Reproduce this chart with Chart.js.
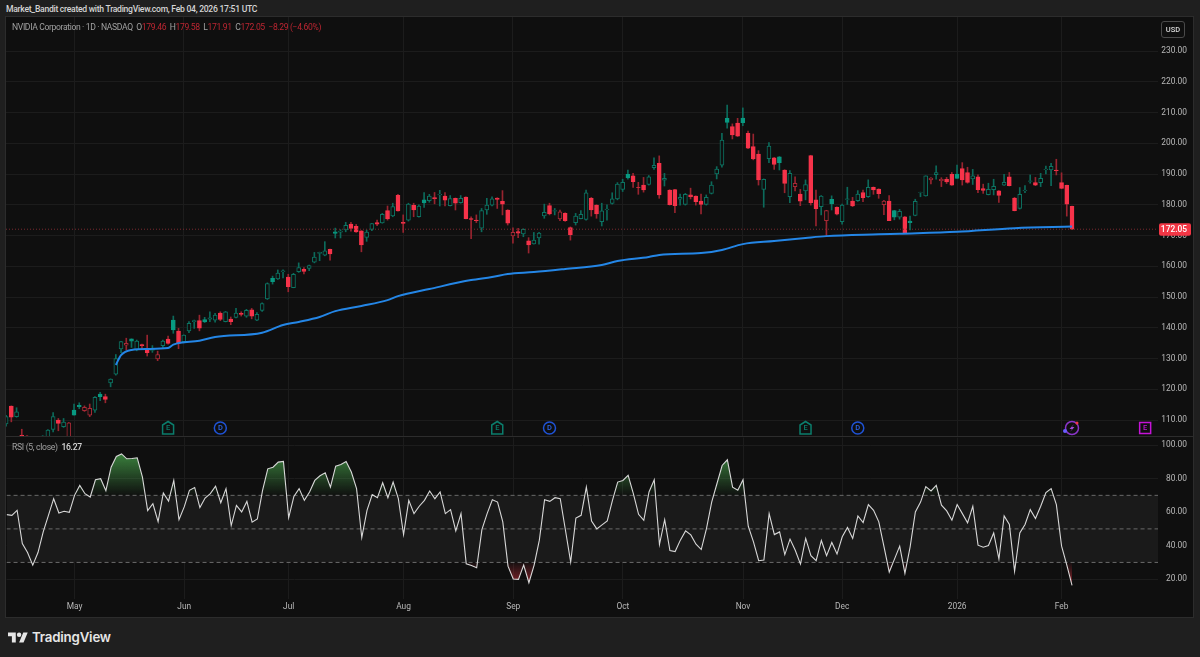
<!DOCTYPE html>
<html>
<head>
<meta charset="utf-8">
<title>NVDA</title>
<script src="https://cdn.jsdelivr.net/npm/chart.js@4/dist/chart.umd.js"></script>
<style>
  html, body { margin: 0; padding: 0; width: 1200px; height: 657px; overflow: hidden; background: #1f1f1f; font-family: Roboto, sans-serif; }
  #frame { position: absolute; left: 6px; top: 17px; width: 1187px; height: 600px; background: #0f0f0f; }
  #frameBorder { position: absolute; left: 5px; top: 16px; width: 1187px; height: 600px; border: 1px solid #2c2c2c; pointer-events: none; }
  #divider { position: absolute; left: 6px; top: 436px; width: 1187px; height: 1px; background: #2c2c2c; }
  canvas { position: absolute; left: 6px; }
  #priceCanvas { top: 17px; }
  #rsiCanvas { top: 437px; }
  .txt { position: absolute; white-space: pre; }
  #author { left: 6px; top: 4px; font-size: 8.6px; letter-spacing: -0.28px; line-height: 11px; font-weight: 500; color: #d4d4d4; }
  #legend { left: 12px; top: 22px; font-size: 8.6px; letter-spacing: -0.36px; line-height: 11px; color: #a0a0a0; }
  #legend b { font-weight: 400; color: #bd2632; }
  #rsiLegend { left: 12px; top: 441px; font-size: 8.6px; letter-spacing: -0.3px; line-height: 12px; color: #a0a0a0; }
  #rsiLegend b { font-weight: 500; color: #d8d8d8; }
  #usd { position: absolute; left: 1161px; top: 21px; width: 22px; height: 15px; border: 1px solid #4a4a4a; border-radius: 3px; color: #d8d8d8; font-size: 7.5px; font-weight: 500; text-align: center; line-height: 15px; }
  #logo { position: absolute; left: 8px; top: 630px; width: 20px; height: 16px; fill: #e6e6e6; }
  #brand { left: 32px; top: 629px; font-family: Inter, sans-serif; font-size: 13.3px; font-weight: 600; letter-spacing: -0.2px; color: #e6e6e6; }
</style>
</head>
<body>
<div id="frame"></div>
<canvas id="priceCanvas" width="1187" height="419"></canvas>
<canvas id="rsiCanvas" width="1187" height="180"></canvas>
<div id="divider"></div>
<div id="frameBorder"></div>
<div class="txt" id="author">Market_Bandit created with TradingView.com, Feb 04, 2026 17:51 UTC</div>
<div class="txt" id="legend">NVIDIA Corporation · 1D · NASDAQ  O<b>179.46</b>  H<b>179.58</b>  L<b>171.91</b>  C<b>172.05</b>  <b>−8.29 (−4.60%)</b></div>
<div class="txt" id="rsiLegend">RSI (5, close)  <b>16.27</b></div>
<div id="usd">USD</div>
<svg id="logo" viewBox="0 0 36 28"><path d="M14 22H7V11H0V4h14v18zM28 22h-8l7.5-18h8L28 22z"/><circle cx="20" cy="8" r="4"/></svg>
<div class="txt" id="brand">TradingView</div>

<script>
/* ===== ค่าที่อ่านจากกราฟ ===== */
const opens = [108.7,114.5,111.1,105.0,104.8,103,101,103,103.5,106.9,
  110.0,107.8,104.5,113.2,114.8,113.0,111.6,113.2,118.4,117.6,
  122.1,124.9,133.1,134.3,136.4,132.8,134.5,133.3,132.6,129.9,
  134.2,136.3,142.5,138.9,135.5,139.0,142.0,142.3,142.7,142.8,
  142.5,144.8,142.0,142.8,143.4,144.7,143.8,145.8,142.5,145.6,
  149.4,156.1,155.9,158.2,156.5,153.0,158.2,159.0,159.3,161.3,
  164.2,163.6,165.5,171.2,171.1,171.8,173.7,173.0,171.5,169.4,
  172.0,174.2,174.1,178.1,176.4,183.1,174.3,175.0,179.8,176.1,
  181.6,181.3,182.3,183.2,182.8,179.7,182.1,180.7,182.5,175.5,
  175.0,172.4,178.3,179.9,182.2,181.1,178.3,169.9,171.3,170.5,
  168.3,167.3,169.2,176.4,179.7,177.9,175.4,177.2,172.6,174.2,
  175.5,175.2,182.1,179.9,174.5,178.4,180.4,181.9,185.0,189.9,
  189.4,185.7,186.4,186.6,192.1,193.5,188.0,184.8,184.9,181.8,
  180.1,183.2,182.8,181.2,180.1,183.7,190.0,192.9,208.1,205.4,
  206.6,208.2,203.2,198.9,196.5,185.0,195.0,195.3,195.6,191.3,
  182.6,185.9,183.5,184.5,196.0,181.6,179.4,174.8,181.8,179.2,
  174.5,181.7,181.2,181.3,184.0,182.6,185.7,185.1,180.0,181.2,
  178.1,176.0,176.1,174.7,176.5,183.9,182.9,188.1,189.8,187.8,
  188.3,189.9,190.0,191.8,190.5,188.4,189.1,185.3,183.3,184.9,
  184.5,186.4,189.1,182.2,178.8,184.6,187.6,187.2,187.2,191.4,
  191.3,191.3,187.2,186.3,179.46];
const highs = [111.5,114.6,114.0,107.0,104.9,103.5,103.2,104.9,106.9,112.4,
  110.5,110.5,109.2,115.2,115.6,114.6,115.2,117.6,119.0,118.4,
  123.4,131.3,135.6,136.6,136.4,136.0,134.7,137.6,134.2,132.4,
  136.0,137.3,143.8,139.8,137.7,142.0,142.5,144.1,143.4,145.2,
  144.7,145.2,145.3,143.5,146.3,145.2,146.0,146.3,144.9,148.1,
  154.6,156.8,158.8,158.8,157.4,157.7,161.1,159.6,160.4,164.5,
  164.6,168.0,165.6,172.4,171.9,174.3,174.3,173.6,171.6,171.8,
  174.0,175.0,177.2,179.6,180.5,183.4,176.7,180.5,180.5,180.0,
  184.0,183.4,184.0,184.7,184.0,183.0,182.2,183.0,182.6,176.1,
  176.7,178.8,182.1,182.6,182.3,184.6,178.4,172.5,172.3,172.2,
  169.3,171.0,171.0,180.2,180.5,178.8,178.3,177.4,172.8,177.2,
  178.1,184.8,182.4,180.0,180.5,180.0,183.9,187.2,188.3,191.3,
  190.2,187.3,188.9,189.5,195.3,195.9,190.2,184.9,185.0,183.5,
  183.7,185.4,182.9,183.5,183.2,187.5,192.4,203.2,212.4,206.3,
  208.1,211.5,204.0,203.0,197.6,188.4,200.2,195.4,195.7,191.4,
  191.1,189.1,185.0,188.1,196.1,184.8,183.0,178.2,182.9,179.3,
  180.2,185.7,182.4,184.6,184.8,188.1,185.8,185.2,181.4,183.0,
  178.2,178.5,176.2,176.3,181.8,184.1,189.4,188.8,192.7,188.8,
  188.9,190.5,192.9,193.7,192.2,191.5,189.7,186.7,187.0,188.3,
  184.6,189.9,190.5,182.4,185.6,186.2,189.7,188.9,190.2,192.6,
  193.5,194.8,190.4,186.4,179.58];
const lows = [108,109.4,110.9,104,104,101,100.5,102,103,106.1,
  106.5,107.6,104,111.6,113.7,112.8,111.1,112.5,116.3,115.6,
  120.8,124.6,131.9,132.8,133.6,132.5,133.0,130.8,132.0,129.3,
  133.6,134.7,138.2,133.2,135.1,138.4,139.8,139.0,141.7,142.0,
  141.8,142.3,141.9,141.0,143.2,143.8,143.4,142.9,142.3,145.3,
  149.2,154.2,155.7,156.2,151.7,153.0,158.0,157.5,158.6,161.1,
  161.8,163.4,162.0,169.2,169.2,171.2,171.4,171.0,164.7,168.1,
  171.6,173.2,174.0,175.0,176.1,177.9,171.0,174.7,176.1,176.0,
  179.1,180.8,180.3,179.6,179.6,179.6,178.3,180.5,175.4,169.0,
  174.2,171.2,176.9,179.6,178.8,176.7,173.4,167.5,169.3,169.6,
  164.3,167.2,167.2,175.6,176.7,176.7,174.8,174.6,168.5,173.4,
  175.4,175.0,176.3,175.6,173.1,175.0,180.2,181.6,184.3,188.3,
  185.6,183.4,184.1,186.4,191.5,182.1,186.1,179.9,177.4,179.9,
  179.9,181.9,179.9,177.0,179.9,183.5,188.4,192.2,204.9,201.4,
  202.2,205.7,198.2,194.6,186.4,179.2,193.7,191.5,191.3,183.9,
  180.7,184.5,179.7,181.6,179.9,173.1,176.7,169.8,178.3,176.7,
  173.7,180.1,179.4,181.1,181.0,182.4,183.4,182.1,176.8,174.8,
  175.1,175.3,170.7,171.8,176.4,182.6,182.8,186.8,188.3,185.9,
  186.9,186.3,188.6,186.4,187.0,186.6,183.9,183.7,183.2,183.2,
  180.8,186.3,186.1,178.0,178.6,183.9,187.0,186.2,185.9,190.0,
  186.2,189.7,185.2,176.3,171.91];
const closes = [111.1,110.9,112.7,104.7,104.5,102,103,104.8,106.7,111.1,
  108.9,109.3,109.1,111.6,114.3,114.1,113.8,117.4,117.6,116.7,
  123.3,130.0,135.5,134.9,135.6,135.7,134.2,131.9,133.0,131.3,
  135.7,134.9,139.3,134.9,137.6,141.4,142.3,139.9,141.9,143.2,
  144.1,142.7,145.2,142.0,144.8,144.3,145.7,143.8,144.4,147.9,
  154.4,155.0,157.8,158.5,153.4,157.4,159.6,158.3,160.2,163.0,
  164.5,165.0,164.0,170.7,171.4,173.3,172.3,171.2,166.9,171.1,
  173.9,173.7,176.9,175.4,179.4,178.0,173.9,180.2,178.3,179.6,
  180.6,182.8,182.0,183.4,181.5,182.0,180.5,182.1,175.5,175.2,
  174.8,178.1,179.9,181.9,181.7,180.2,174.0,171.0,170.8,172.0,
  166.9,168.5,170.8,177.5,177.0,178.1,177.7,174.8,170.3,176.3,
  176.9,183.9,178.3,177.0,178.0,178.6,181.9,186.7,187.3,188.7,
  187.5,185.6,184.8,189.1,192.8,183.2,188.6,180.0,179.7,182.4,
  183.4,182.6,181.0,180.1,182.4,186.4,191.6,201.0,206.8,202.7,
  202.3,206.7,198.4,194.9,188.1,188.3,199.1,193.1,193.7,186.9,
  190.2,187.0,181.2,186.6,180.7,178.7,182.8,178.1,180.3,176.9,
  179.9,181.9,179.6,183.5,182.3,185.7,184.8,183.6,181.2,174.8,
  176.0,177.9,170.7,174.2,181.1,184.0,189.4,188.7,190.5,188.3,
  187.4,186.4,188.6,188.1,187.3,189.4,184.9,184.7,185.0,186.0,
  183.0,187.3,186.2,178.1,183.4,184.8,187.8,186.4,188.6,191.6,
  192.5,191.1,185.3,180.2,172.05];

const rsiValues = [58.5,58.1,61.1,41.3,35.9,28.4,35.9,48.2,58.1,68.0,
  59.5,60.5,59.9,70.0,75.9,71.0,69.0,79.3,79.9,72.8,
  86.8,93.2,94.7,91.8,92.0,92.4,80.9,60.9,65.0,54.3,
  71.4,66.6,78.9,55.5,63.1,73.0,74.7,62.7,68.4,71.0,
  75.5,65.6,74.0,52.0,64.0,60.1,66.4,54.0,55.9,73.0,
  85.8,86.8,89.8,90.2,56.7,69.4,74.0,67.0,72.0,78.9,
  81.7,83.5,74.9,87.4,88.4,90.2,83.9,74.0,44.8,61.1,
  70.4,68.6,77.5,68.6,77.9,68.0,46.6,67.0,59.1,63.5,
  67.0,72.6,68.0,72.0,59.1,61.5,48.8,59.1,29.2,28.2,
  26.8,49.6,59.1,67.4,66.0,54.2,27.8,20.1,19.9,28.4,
  17.9,28.4,43.3,67.4,66.4,68.6,68.0,49.2,30.2,56.5,
  58.1,74.9,54.7,50.0,52.4,54.7,67.0,77.9,78.9,81.9,
  71.0,58.7,55.1,72.0,79.3,40.7,55.5,37.1,36.5,43.3,
  48.8,46.4,40.9,37.7,50.2,66.0,76.9,87.8,91.2,74.9,
  73.0,79.3,51.6,42.3,31.0,31.4,59.1,46.6,48.2,34.7,
  43.9,37.3,29.0,44.3,34.0,31.0,43.1,34.0,41.9,35.0,
  45.3,50.8,44.3,57.7,53.8,64.5,61.1,54.2,39.3,24.3,
  32.0,39.7,23.5,39.3,60.1,66.0,75.2,72.6,75.9,64.1,
  60.7,55.2,64.5,59.1,53.6,63.5,40.3,39.1,40.1,47.6,
  32.0,57.7,52.6,24.7,47.6,52.6,61.5,56.2,63.5,71.6,
  74.0,64.5,39.7,28.4,16.27];

// เส้นสีน้ำเงิน: อ่านเป็นช่วง ๆ (แท่งที่, ราคา)
const avgBars = [21,22,24,27,31,32,37,40,49,53,56,60,63,68,73,75,81,89,93,96,101,107,114,117,123,125,133,137,141,147,153,157,167,171,182,193,204];
const avgVals = [127.9,131.1,132.8,133.1,133.4,134.5,135.8,137.0,138.4,140.9,141.9,143.5,145.4,147.1,149.0,150.3,152.6,155.5,156.5,157.5,158.1,159.1,160.4,161.7,163.0,163.7,164.3,165.3,167.2,168.2,169.2,169.8,170.4,170.6,171.2,172.4,172.9];

const monthBars = [13,34,54,76,97,118,141,160,182,202];
const monthLabels = ['May','Jun','Jul','Aug','Sep','Oct','Nov','Dec','2026','Feb'];
const priceTicks = [110,120,130,140,150,160,170,180,190,200,210,220,230];
const rsiTicks = [20,40,60,80,100];
const rsiLevels = [70,50,30];
const earningsBars = [31,94,153,218];
const dividendBars = [41,104,163];
const noticeBar = 204;

/* ===== ค่าแกน/สี ===== */
const X_MIN = -0.02, X_MAX = 220.46;
const GREEN = '#089981', RED = '#f7334a';
const PANE_BG = '#0f0f0f', GRID = '#1c1c1c', TICK = '#b8b8b8';
const TICK_FONT = { family: 'Roboto, sans-serif', size: 8.4 };

function isUp(i) {
    return i === 0 || closes[i] >= closes[i - 1];
}

function fixAxisY(axis) {
    axis.width = 29;
    axis.paddingTop = 0;
    axis.paddingBottom = 0;
}

function fixAxisX(height) {
    return function(axis) {
        axis.height = height;
        axis.paddingLeft = 0;
        axis.paddingRight = 0;
    };
}

function monthAxis(showLabels, height) {
    return {
        type: 'linear',
        offset: false,
        min: X_MIN,
        max: X_MAX,
        afterBuildTicks: axis => { axis.ticks = monthBars.map(v => ({ value: v })); },
        afterFit: fixAxisX(height),
        border: { display: false },
        grid: { color: GRID, drawTicks: false, offset: false },
        ticks: {
            display: showLabels,
            autoSkip: false,
            maxRotation: 0,
            padding: 3,
            color: TICK,
            font: TICK_FONT,
            callback: v => monthLabels[monthBars.indexOf(v)]
        }
    };
}

/* ===== ไอคอนเหตุการณ์และป้ายราคา ===== */
const priceExtras = {
    id: 'priceExtras',
    afterDraw(chart) {
        const ctx = chart.ctx;
        const xs = chart.scales.x, ys = chart.scales.y;
        const top = 411;  // เส้นกลางไอคอน ภายใน canvas

        ctx.save();
        ctx.textAlign = 'center';
        ctx.textBaseline = 'middle';
        ctx.font = '500 7.5px Roboto, sans-serif';

        earningsBars.forEach(function(bar, n) {
            const x = xs.getPixelForValue(bar);
            const future = n === earningsBars.length - 1;
            const c = future ? '#c513d8' : '#0b7d6c';
            ctx.strokeStyle = c;
            ctx.fillStyle = c;
            ctx.lineWidth = 1.5;
            ctx.beginPath();
            if (future) {
                ctx.rect(x - 5.5, top - 5.5, 11, 11);
            } else {
                ctx.moveTo(x, top - 6.5);
                ctx.lineTo(x + 5.5, top - 3);
                ctx.lineTo(x + 5.5, top + 6);
                ctx.lineTo(x - 5.5, top + 6);
                ctx.lineTo(x - 5.5, top - 3);
                ctx.closePath();
            }
            ctx.stroke();
            ctx.fillText('E', x, top + 0.5);
        });

        dividendBars.forEach(function(bar) {
            const x = xs.getPixelForValue(bar);
            ctx.strokeStyle = '#1f53d6';
            ctx.fillStyle = '#2f66e8';
            ctx.lineWidth = 1.5;
            ctx.beginPath();
            ctx.arc(x, top, 6, 0, Math.PI * 2);
            ctx.stroke();
            ctx.fillText('D', x, top + 0.5);
        });

        // ไอคอนสายฟ้าแท่งล่าสุด
        const nx = xs.getPixelForValue(noticeBar);
        ctx.strokeStyle = '#8a35c9';
        ctx.lineWidth = 1.5;
        ctx.beginPath();
        ctx.arc(nx, top, 6.5, 0, Math.PI * 2);
        ctx.stroke();
        ctx.fillStyle = '#a04ad8';
        ctx.beginPath();
        ctx.moveTo(nx + 2, top - 4);
        ctx.lineTo(nx - 2.5, top + 1);
        ctx.lineTo(nx, top + 1);
        ctx.lineTo(nx - 2, top + 4);
        ctx.lineTo(nx + 2.5, top - 1);
        ctx.lineTo(nx, top - 1);
        ctx.closePath();
        ctx.fill();
        ctx.fillStyle = '#6a5cff';
        ctx.beginPath();
        ctx.arc(nx - 7, top + 3, 2, 0, Math.PI * 2);
        ctx.fill();
        ctx.fillStyle = '#f23645';
        ctx.beginPath();
        ctx.arc(nx + 5, top - 5, 1.5, 0, Math.PI * 2);
        ctx.fill();

        // ป้ายราคาล่าสุด
        const last = closes[closes.length - 1];
        const ly = ys.getPixelForValue(last);
        ctx.fillStyle = '#f23645';
        ctx.beginPath();
        ctx.roundRect(1153, ly - 6, 32, 12.5, 2);
        ctx.fill();
        ctx.fillStyle = '#ffffff';
        ctx.font = '500 8.4px Roboto, sans-serif';
        ctx.textAlign = 'right';
        ctx.fillText(last.toFixed(2), 1181, ly + 0.5);
        ctx.restore();
    }
};

/* ===== แท่งเทียน + เส้นเฉลี่ย ===== */
function initPriceChart() {
    const bars = opens.map((o, i) => i);
    const lastClose = closes[closes.length - 1];

    new Chart(document.getElementById('priceCanvas'), {
        type: 'bar',
        data: {
            datasets: [
                {
                    label: 'wick',
                    order: 4,
                    grouped: false,
                    barThickness: 1,
                    data: bars.map(i => ({ x: i, y: [lows[i], highs[i]] })),
                    backgroundColor: c => isUp(c.dataIndex) ? '#0c6a5b' : '#98242f'
                },
                {
                    label: 'body',
                    order: 3,
                    grouped: false,
                    barThickness: 4,
                    borderSkipped: false,
                    borderWidth: 1,
                    data: bars.map(i => ({ x: i, y: [Math.min(opens[i], closes[i]), Math.max(opens[i], closes[i])] })),
                    backgroundColor: c => closes[c.dataIndex] >= opens[c.dataIndex] ? PANE_BG : (isUp(c.dataIndex) ? GREEN : RED),
                    borderColor: c => {
                        if (closes[c.dataIndex] >= opens[c.dataIndex]) return isUp(c.dataIndex) ? '#0c7463' : '#a82a36';
                        return isUp(c.dataIndex) ? GREEN : RED;
                    }
                },
                {
                    type: 'line',
                    label: 'avg',
                    order: 1,
                    data: avgBars.map((b, n) => ({ x: b, y: avgVals[n] })),
                    borderColor: '#2486e6',
                    borderWidth: 2,
                    pointRadius: 0,
                    cubicInterpolationMode: 'monotone'
                },
                {
                    type: 'line',
                    label: 'last',
                    order: 2,
                    data: [{ x: X_MIN, y: lastClose }, { x: X_MAX, y: lastClose }],
                    borderColor: '#7a2a30',
                    borderWidth: 1,
                    borderDash: [1, 2],
                    pointRadius: 0
                }
            ]
        },
        options: {
            responsive: false,
            animation: false,
            events: [],
            layout: { padding: { right: 6 } },
            plugins: { legend: { display: false }, tooltip: { enabled: false } },
            scales: {
                x: monthAxis(false, 0),
                y: {
                    position: 'right',
                    min: 104.8,
                    max: 241.06,
                    afterBuildTicks: axis => { axis.ticks = priceTicks.map(v => ({ value: v })); },
                    afterFit: fixAxisY,
                    border: { display: false },
                    grid: { color: GRID, drawTicks: false },
                    ticks: { color: TICK, font: TICK_FONT, padding: 0, crossAlign: 'far', callback: v => v.toFixed(2) }
                }
            }
        },
        plugins: [priceExtras]
    });
}

/* ===== RSI ===== */
function initRsiChart() {
    const rsiPoints = rsiValues.map((v, i) => ({ x: i, y: v }));
    const levelLine = v => [{ x: X_MIN, y: v }, { x: X_MAX, y: v }];
    const lineBase = { pointRadius: 0, tension: 0 };

    const rsiChart = new Chart(document.getElementById('rsiCanvas'), {
        type: 'line',
        data: {
            datasets: [
                // แถบ 30-70
                Object.assign({}, lineBase, {
                    order: 9,
                    data: levelLine(rsiLevels[0]),
                    borderWidth: 0,
                    fill: { target: { value: rsiLevels[2] }, above: '#1a1a1a' }
                }),
                Object.assign({}, lineBase, {
                    order: 8,
                    data: rsiPoints,
                    borderWidth: 0,
                    fill: { target: { value: rsiLevels[0] }, above: 'rgba(0,0,0,0)', below: 'rgba(0,0,0,0)' }
                }),
                Object.assign({}, lineBase, {
                    order: 7,
                    data: rsiPoints,
                    borderWidth: 0,
                    fill: { target: { value: rsiLevels[2] }, above: 'rgba(0,0,0,0)', below: 'rgba(0,0,0,0)' }
                }),
                ...rsiLevels.map(v => Object.assign({}, lineBase, {
                    order: 3,
                    data: levelLine(v),
                    borderColor: '#6a6a6a',
                    borderWidth: 1,
                    borderDash: [4, 3]
                })),
                Object.assign({}, lineBase, {
                    order: 1,
                    data: rsiPoints,
                    borderColor: '#d8d8d8',
                    borderWidth: 1.1
                })
            ]
        },
        options: {
            responsive: false,
            animation: false,
            events: [],
            layout: { padding: { right: 6 } },
            plugins: { legend: { display: false }, tooltip: { enabled: false } },
            scales: {
                x: monthAxis(true, 18),
                y: {
                    position: 'right',
                    min: 8.2,
                    max: 104.46,
                    afterBuildTicks: axis => { axis.ticks = rsiTicks.map(v => ({ value: v })); },
                    afterFit: fixAxisY,
                    border: { display: false },
                    grid: { color: GRID, drawTicks: false },
                    ticks: { color: TICK, font: TICK_FONT, padding: 0, crossAlign: 'far', callback: v => v.toFixed(2) }
                }
            }
        }
    });

    // ไล่สีเหนือ 70 และใต้ 30 (ต้องรู้ตำแหน่งแกนก่อน)
    const ys = rsiChart.scales.y;
    const ctx = rsiChart.ctx;
    const greenFade = ctx.createLinearGradient(0, ys.getPixelForValue(95), 0, ys.getPixelForValue(70));
    greenFade.addColorStop(0, 'rgba(76,175,80,0.72)');
    greenFade.addColorStop(1, 'rgba(76,175,80,0.02)');
    const redFade = ctx.createLinearGradient(0, ys.getPixelForValue(30), 0, ys.getPixelForValue(15));
    redFade.addColorStop(0, 'rgba(242,54,69,0.03)');
    redFade.addColorStop(1, 'rgba(242,54,69,0.6)');
    rsiChart.data.datasets[1].fill.above = greenFade;
    rsiChart.data.datasets[2].fill.below = redFade;
    rsiChart.update('none');
}

document.addEventListener('DOMContentLoaded', function() {
    initPriceChart();
    initRsiChart();
});
</script>
</body>
</html>
